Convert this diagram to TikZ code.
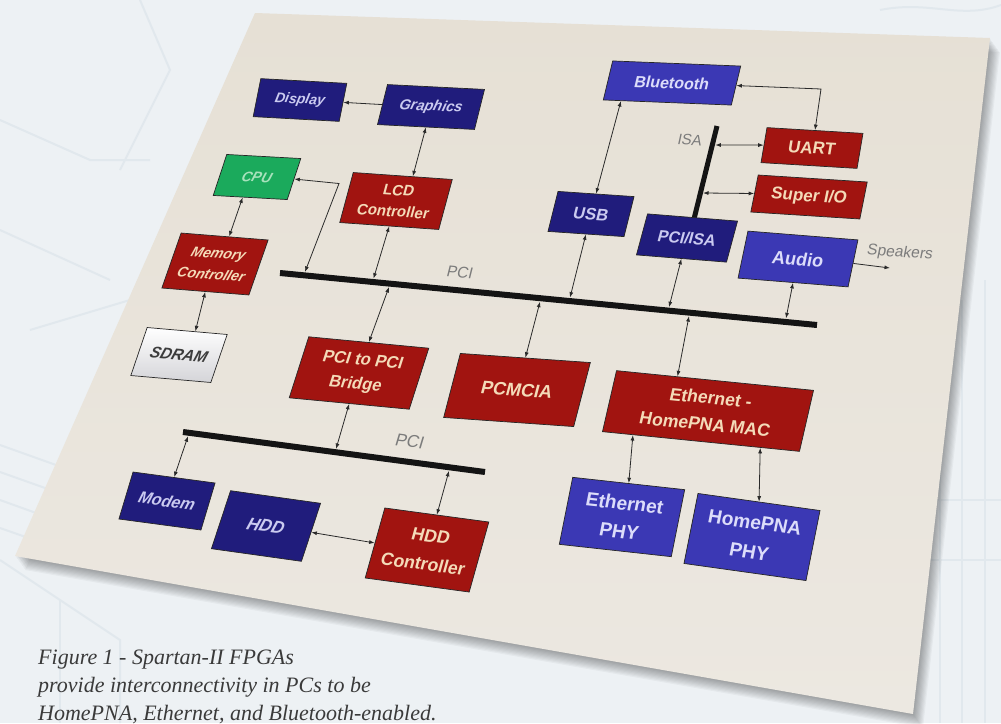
\documentclass[tikz,border=0pt]{standalone}
\usepackage{fontspec}
\setmainfont{Liberation Serif}
\setsansfont{Liberation Sans}
\usetikzlibrary{arrows.meta,calc}
\definecolor{bgc}{HTML}{EDF1F4}
\definecolor{bgline}{HTML}{E1E8ED}
\definecolor{sheettop}{HTML}{E6E0D5}
\definecolor{sheetbot}{HTML}{ECE8E1}
\definecolor{navybox}{HTML}{201C7C}
\definecolor{bluebox}{HTML}{3B38B4}
\definecolor{redbox}{HTML}{A11410}
\definecolor{greenbox}{HTML}{1BAA5C}
\definecolor{sdramfill}{HTML}{D4D4D8}
\definecolor{navytxt}{HTML}{CACAF0}
\definecolor{bluetxt}{HTML}{DCDCFA}
\definecolor{redtxt}{HTML}{F4DAB8}
\definecolor{greentxt}{HTML}{A8E2BC}
\definecolor{sdramtxt}{HTML}{3C3C3C}
\definecolor{lbltxt}{HTML}{7C7C7C}
\definecolor{captxt}{HTML}{3A3A3A}
\definecolor{linec}{HTML}{2A2A2A}

\newcommand{\blk}[9]{%
  \begin{scope}[shift={(#2,#3)},cm={1,#6,#7,1,(0,0)}]
    \node[#8,transform shape,minimum width=#4pt,minimum height=#5pt] (#1) {#9};
  \end{scope}}
\newcommand{\lbl}[7]{%
  \begin{scope}[shift={(#2,#3)},cm={1,#4,#5,1,(0,0)}]
    \node[#6,transform shape,inner sep=0pt] (#1) {#7};
  \end{scope}}

\tikzset{
  blkbase/.style={draw=black!85,line width=0.7pt,inner sep=1pt,align=center},
  fsz/.style 2 args={font=\sffamily\bfseries\fontsize{#1}{#2}\selectfont},
  fszi/.style 2 args={font=\sffamily\bfseries\itshape\fontsize{#1}{#2}\selectfont},
  bnavy/.style={blkbase,fill=navybox,text=navytxt},
  bblue/.style={blkbase,fill=bluebox,text=bluetxt},
  bred/.style={blkbase,fill=redbox,text=redtxt},
  bgreen/.style={blkbase,fill=greenbox,text=greentxt},
  bgray/.style={blkbase,top color=white,bottom color=sdramfill,text=sdramtxt},
  conn/.style={draw=linec,line width=0.8pt,>={Latex[length=5.5pt,width=4pt]},<->},
  conn1/.style={conn,->},
  bus/.style={draw=black!92,line width=6pt},
  lblsty/.style={text=lbltxt,font=\sffamily\fontsize{#1}{#1}\selectfont},
  capsty/.style={anchor=base west,inner sep=0pt,text=captxt,font=\itshape\fontsize{22}{28}\selectfont},
}

\begin{document}
\begin{tikzpicture}[x=1pt,y=-1pt]
\useasboundingbox (0,0) rectangle (1001,723);
\clip (0,0) rectangle (1001,723);
\fill[bgc] (0,0) rectangle (1001,723);

% faint background pattern
\begin{scope}[draw=bgline,line width=2pt]
  \draw (0,445) -- (70,470);
  \draw (0,472) -- (62,494);
  \draw (0,500) -- (50,518);
  \draw (0,528) -- (40,542);
  \draw (0,560) -- (120,640) -- (120,723);
  \draw (60,600) -- (60,723);
  \draw (940,330) -- (940,723);
  \draw (962,300) -- (962,723);
  \draw (985,280) -- (985,723);
  \draw (930,500) -- (1001,500);
  \draw (930,560) -- (1001,560);
  \draw (880,10) .. controls (930,0) and (960,20) .. (1001,5);
  \draw (0,120) -- (90,160) -- (150,160);
  \draw (0,230) -- (110,280);
  \draw (30,330) -- (130,300);
  \draw (140,0) -- (170,70) -- (120,170);
\end{scope}

% sheet shadow and sheet
\foreach \i in {1,...,10} {
  \fill[black,opacity=0.035,shift={(1.0*\i,1.4*\i)}] (255,13) -- (990,38) -- (913,714) -- (15,556) -- cycle;
}
\shade[top color=sheettop,bottom color=sheetbot] (255,13) -- (990,38) -- (913,714) -- (15,556) -- cycle;

% buses
\coordinate (pciL) at (280,273);
\coordinate (pciR) at (817,325);
\coordinate (pci2L) at (183,432);
\coordinate (pci2R) at (485,472);
\coordinate (isaT) at (717,126);
\coordinate (isaB) at (694,219);
\draw[bus] (pciL) -- (pciR);
\draw[bus] (pci2L) -- (pci2R);
\draw[bus,line width=5pt] (isaT) -- (isaB);

% blocks: name, cx, cy, w, h, b, c, style, text
\blk{disp}{300}{100}{86}{38}{-0.055}{0.2}{bnavy,fszi={14}{17}}{Display}
\blk{gfx}{431}{107}{97}{40}{-0.05}{0.25}{bnavy,fszi={14.5}{17}}{Graphics}
\blk{bt}{672}{83}{128}{39}{-0.04}{0.24}{bblue,fsz={16}{19}}{Bluetooth}
\blk{uart}{812}{148}{96}{35}{-0.06}{0.17}{bred,fsz={17}{20}}{UART}
\blk{sio}{809}{197}{109}{37}{-0.064}{0.2}{bred,fsz={17}{20}}{Super I/O}
\blk{cpu}{257}{177}{74}{41}{-0.055}{0.33}{bgreen,fszi={14}{17}}{CPU}
\blk{lcd}{396}{201}{99}{50}{-0.07}{0.27}{bred,fsz={15}{21}}{LCD\\Controller}
\blk{usb}{591}{214}{76}{40}{-0.068}{0.25}{bnavy,fsz={16.5}{19}}{USB}
\blk{pciisa}{687}{238}{90}{41}{-0.08}{0.27}{bnavy,fsz={16}{19}}{PCI/ISA}
\blk{audio}{798}{259}{110}{47}{-0.08}{0.21}{bblue,fsz={18}{21}}{Audio}
\blk{mem}{215}{264}{87}{55}{-0.08}{0.35}{bred,fszi={14}{21}}{Memory\\Controller}
\blk{sdram}{179}{355}{80}{48}{-0.087}{0.34}{bgray,fszi={15.5}{18}}{SDRAM}
\blk{bridge}{359}{373}{120}{61}{-0.095}{0.32}{bred,fsz={16.5}{24}}{PCI to PCI\\Bridge}
\blk{pcmcia}{517}{390}{130}{64}{-0.07}{0.26}{bred,fsz={18}{21}}{PCMCIA}
\blk{mac}{708}{411}{197}{61}{-0.1}{0.23}{bred,fsz={17.5}{26}}{Ethernet -\\HomePNA MAC}
\blk{ephy}{622}{517}{112}{67}{-0.11}{0.2}{bblue,fsz={19}{28}}{Ethernet\\PHY}
\blk{hphy}{752}{537}{122}{70}{-0.14}{0.2}{bblue,fsz={19}{29}}{HomePNA\\PHY}
\blk{modem}{167}{501}{82}{47}{-0.134}{0.3}{bnavy,fszi={16}{19}}{Modem}
\blk{hdd}{266}{526}{90}{58}{-0.14}{0.33}{bnavy,fszi={17}{20}}{HDD}
\blk{hddc}{427}{550}{104}{70}{-0.135}{0.28}{bred,fsz={17.5}{28}}{HDD\\Controller}

% labels
\lbl{lpci}{460}{272}{-0.09}{0.25}{lblsty=15.5}{PCI}
\lbl{lpcib}{410}{441}{-0.13}{0.3}{lblsty=17}{PCI}
\lbl{lisa}{690}{140}{-0.05}{0.22}{lblsty=15}{ISA}
\lbl{lspk}{900}{253}{-0.07}{0.2}{lblsty=15.5}{Speakers}

% tap points
\coordinate (tCpu) at (305,271.9);
\coordinate (cpuK) at (339,183.5);
\coordinate (tLcd) at (373.5,278.6);
\coordinate (tBr) at (389,287);
\coordinate (tPcm) at (540,301.7);
\coordinate (tMac) at (689,316.1);
\coordinate (tUsb) at (570,297.6);
\coordinate (tIsa) at (669,307.2);
\coordinate (tAud) at (786,318.4);
\coordinate (tUart) at (715.3,145);
\coordinate (tSio) at (703,193);
\coordinate (btK) at (821,89);
\coordinate (tBr2) at (336,449);
\coordinate (tMod) at (188,436.2);
\coordinate (tHddc) at (449,470.8);
\coordinate (spk) at (890,268);

% connectors
\draw[conn1] (gfx.west) -- (disp.east);
\draw[conn] (gfx.south) -- ($(lcd.north west)!0.6!(lcd.north east)$);
\draw[conn] ($(cpu.south west)!0.4!(cpu.south east)$) -- ($(mem.north west)!0.55!(mem.north east)$);
\draw[conn] (cpu.east) -- (cpuK) -- (tCpu);
\draw[conn] (lcd.south) -- (tLcd);
\draw[conn] (mem.south) -- ($(sdram.north west)!0.6!(sdram.north east)$);
\draw[conn] (tBr) -- (bridge.north);
\draw[conn] (tPcm) -- (pcmcia.north);
\draw[conn] (tMac) -- ($(mac.north west)!0.31!(mac.north east)$);
\draw[conn] (usb.south) -- (tUsb);
\draw[conn] ($(bt.south west)!0.14!(bt.south east)$) -- (usb.north);
\draw[conn] (pciisa.south) -- (tIsa);
\draw[conn] (audio.south) -- (tAud);
\draw[conn1] (audio.east) -- (spk);
\draw[conn] (bt.east) -- (btK) -- (uart.north);
\draw[conn] (tUart) -- (uart.west);
\draw[conn] (tSio) -- (sio.west);
\draw[conn] (bridge.south) -- (tBr2);
\draw[conn] (tMod) -- (modem.north);
\draw[conn] (tHddc) -- (hddc.north);
\draw[conn] (hdd.east) -- (hddc.west);
\draw[conn] ($(mac.south west)!0.156!(mac.south east)$) -- (ephy.north);
\draw[conn] ($(mac.south west)!0.8!(mac.south east)$) -- (hphy.north);

% caption
\node[capsty] (cap1) at (38,664) {Figure 1 - Spartan-II FPGAs};
\node[capsty] (cap2) at (38,692) {provide interconnectivity in PCs to be};
\node[capsty] (cap3) at (38,720) {HomePNA, Ethernet, and Bluetooth-enabled.};
\end{tikzpicture}
\end{document}
